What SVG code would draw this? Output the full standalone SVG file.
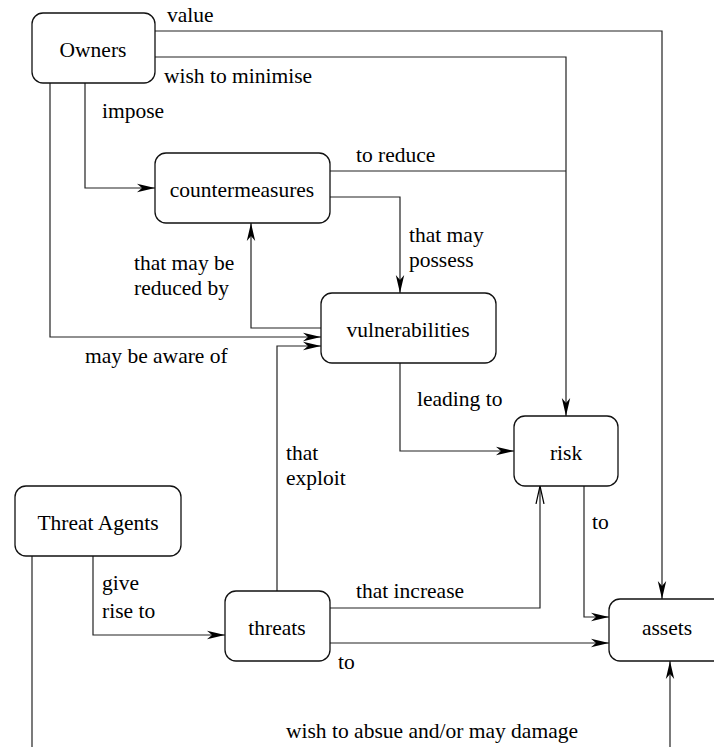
<svg xmlns="http://www.w3.org/2000/svg" width="714" height="747" viewBox="0 0 714 747">
<style>
.box{fill:#fff;stroke:#111;stroke-width:1.3}
.lbl{font-family:"Liberation Serif","Times New Roman",serif;font-size:21.5px;fill:#000}
.c{text-anchor:middle}
.ln{fill:none;stroke:#222;stroke-width:1.2}
</style>
<defs>
<marker id="ah" markerUnits="userSpaceOnUse" markerWidth="20" markerHeight="10" refX="18" refY="5" orient="auto">
<path d="M0,0.8 L18,5 L0,9.2 L5,5 Z" fill="#000"/>
</marker>
<marker id="oh" markerUnits="userSpaceOnUse" markerWidth="20" markerHeight="10" refX="18" refY="5" orient="auto">
<path d="M0,1 L18,5 L0,9" fill="none" stroke="#000" stroke-width="1.2"/>
</marker>
</defs>
<g id="connectors">
<path class="ln" d="M155,31 H662 V599" marker-end="url(#ah)"/>
<path class="ln" d="M155,57 H566 V416" marker-end="url(#ah)"/>
<path class="ln" d="M330,171 H566"/>
<path class="ln" d="M330,197 H400 V293" marker-end="url(#ah)"/>
<path class="ln" d="M85,83 V188 H155" marker-end="url(#ah)"/>
<path class="ln" d="M50,83 V337 H321" marker-end="url(#ah)"/>
<path class="ln" d="M321,328 H251 V223" marker-end="url(#ah)"/>
<path class="ln" d="M277,591 V346 H321" marker-end="url(#ah)"/>
<path class="ln" d="M400,363 V451 H514" marker-end="url(#ah)"/>
<path class="ln" d="M330,608 H540 V486" marker-end="url(#oh)"/>
<path class="ln" d="M584,486 V617 H609" marker-end="url(#ah)"/>
<path class="ln" d="M330,643 H609" marker-end="url(#ah)"/>
<path class="ln" d="M93,556 V635 H225" marker-end="url(#ah)"/>
<path class="ln" d="M32,556 V747"/>
<path class="ln" d="M670,747 V661" marker-end="url(#ah)"/>
<text class="lbl" x="167" y="22">value</text>
<text class="lbl" x="164" y="83">wish to minimise</text>
<text class="lbl" x="102" y="118">impose</text>
<text class="lbl" x="356" y="162">to reduce</text>
<text class="lbl" x="409" y="242">that may</text>
<text class="lbl" x="409" y="267">possess</text>
<text class="lbl" x="134" y="270">that may be</text>
<text class="lbl" x="134" y="295">reduced by</text>
<text class="lbl" x="85" y="363">may be aware of</text>
<text class="lbl" x="417" y="406">leading to</text>
<text class="lbl" x="286" y="460">that</text>
<text class="lbl" x="286" y="485">exploit</text>
<text class="lbl" x="592" y="529">to</text>
<text class="lbl" x="102" y="590">give</text>
<text class="lbl" x="102" y="618">rise to</text>
<text class="lbl" x="356" y="598">that increase</text>
<text class="lbl" x="338" y="669">to</text>
<text class="lbl" x="286" y="738">wish to absue and/or may damage</text>
</g>
<g id="owners"><rect class="box" x="32" y="13" width="123" height="70" rx="11"/><text class="lbl c" x="93" y="57">Owners</text></g>
<g id="countermeasures"><rect class="box" x="155" y="153" width="175" height="70" rx="11"/><text class="lbl c" x="242" y="197">countermeasures</text></g>
<g id="vulnerabilities"><rect class="box" x="321" y="293" width="175" height="70" rx="11"/><text class="lbl c" x="408" y="337">vulnerabilities</text></g>
<g id="risk"><rect class="box" x="514" y="416" width="104" height="70" rx="11"/><text class="lbl c" x="566" y="460">risk</text></g>
<g id="threat-agents"><rect class="box" x="15" y="486" width="166" height="70" rx="11"/><text class="lbl c" x="98" y="530">Threat Agents</text></g>
<g id="threats"><rect class="box" x="225" y="591" width="105" height="70" rx="11"/><text class="lbl c" x="277" y="635">threats</text></g>
<g id="assets"><rect class="box" x="609" y="599" width="120" height="62" rx="11"/><text class="lbl c" x="667" y="635">assets</text></g>
</svg>
